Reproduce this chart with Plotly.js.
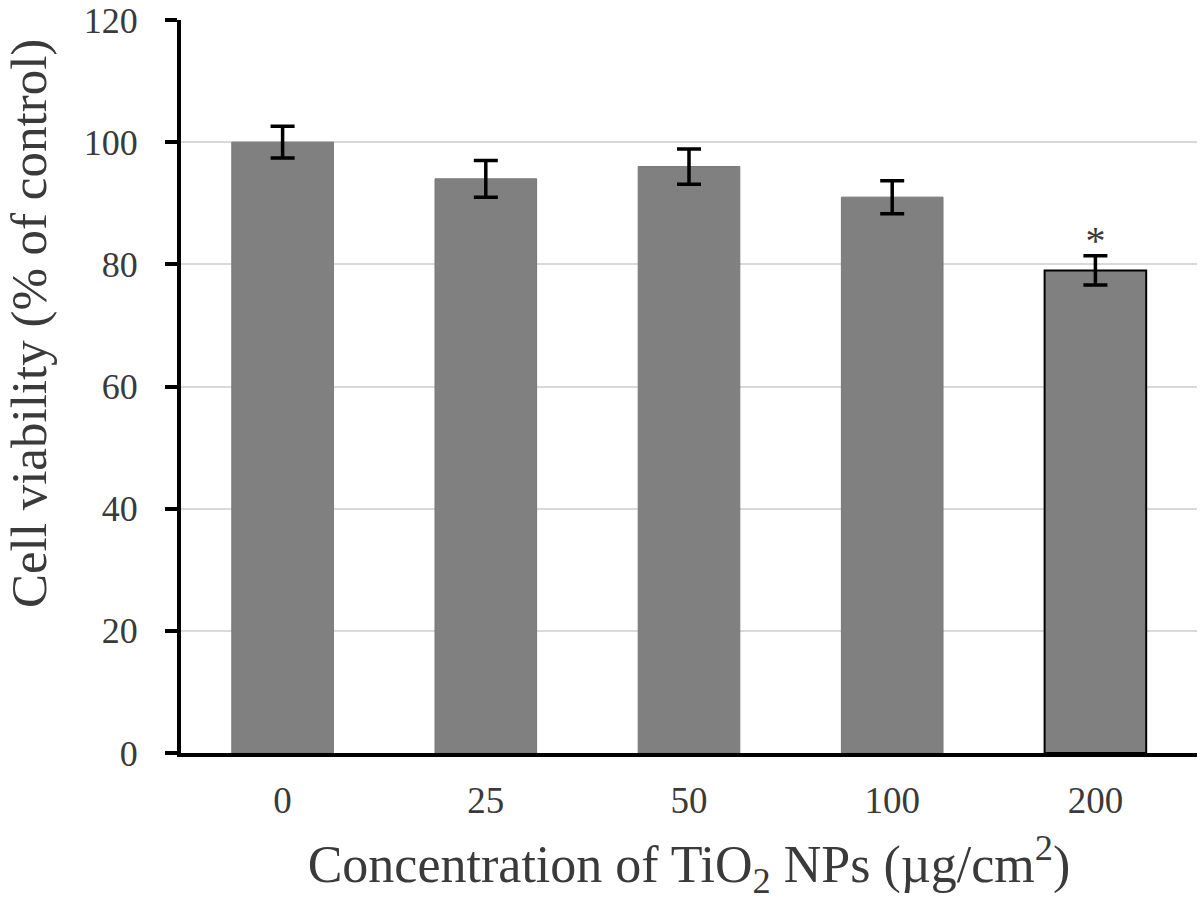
<!DOCTYPE html>
<html><head><meta charset="utf-8">
<script src="https://cdn.plot.ly/plotly-3.0.1.min.js"></script>
<style>body{margin:0;background:#fff}#chart{width:1200px;height:902px}</style>
</head><body><div id="chart"></div>
<script>
const categories = ["0", "25", "50", "100", "200"];
const viability = [100, 94, 96, 91, 79];
const errors = [2.6, 3.0, 2.9, 2.7, 2.4];
const significance = ["", "", "", "", "*"];
const outlineColors = ["#777777", "#777777", "#777777", "#777777", "#000000"];
const yTitle = "Cell viability (% of control)";
const xTitle = "Concentration of TiO<sub>2</sub> NPs (µg/cm<sup>2</sup>)";

const font = "Liberation Serif, Times New Roman, serif";
const textColor = "#3a3a3a";
const trace = {
  type: "bar",
  x: categories,
  y: viability,
  marker: {color: "#808080", line: {color: outlineColors, width: [1, 1, 1, 1, 2]}},
  error_y: {type: "data", array: errors, visible: true, color: "#000", thickness: 3.5, width: 12},
  hoverinfo: "skip"
};
const stars = {
  type: "scatter", mode: "text",
  x: categories,
  y: viability.map((v, i) => v + errors[i] + 2.0),
  text: significance,
  textfont: {family: font, size: 40, color: textColor},
  hoverinfo: "skip"
};
const layout = {
  width: 1200, height: 902,
  margin: {l: 181, r: 3, t: 20, b: 149},
  paper_bgcolor: "#fff", plot_bgcolor: "#fff",
  showlegend: false,
  bargap: 0.5,
  font: {family: font, color: textColor},
  xaxis: {
    type: "category",
    showline: true, linecolor: "#000", linewidth: 4,
    ticks: "", showgrid: false,
    ticklabelstandoff: 12,
    tickfont: {family: font, size: 37, color: textColor},
    title: {text: xTitle, font: {family: font, size: 52, color: textColor}, standoff: 26}
  },
  yaxis: {
    range: [0, 120], dtick: 20,
    showline: true, linecolor: "#000", linewidth: 4,
    ticks: "outside", ticklen: 12, tickwidth: 4, tickcolor: "#000",
    ticklabelstandoff: 20,
    ticklabeloverflow: "allow",
    showgrid: true, gridcolor: "#d9d9d9", gridwidth: 2,
    zeroline: false,
    tickfont: {family: font, size: 36, color: textColor}
  },
  annotations: [{
    text: yTitle, textangle: -90, showarrow: false,
    xref: "paper", yref: "paper", x: -0.149, y: 0.586,
    xanchor: "center", yanchor: "middle",
    font: {family: font, size: 51, color: textColor}
  }]
};
Plotly.newPlot("chart", [trace, stars], layout, {displayModeBar: false, staticPlot: true});
</script></body></html>
